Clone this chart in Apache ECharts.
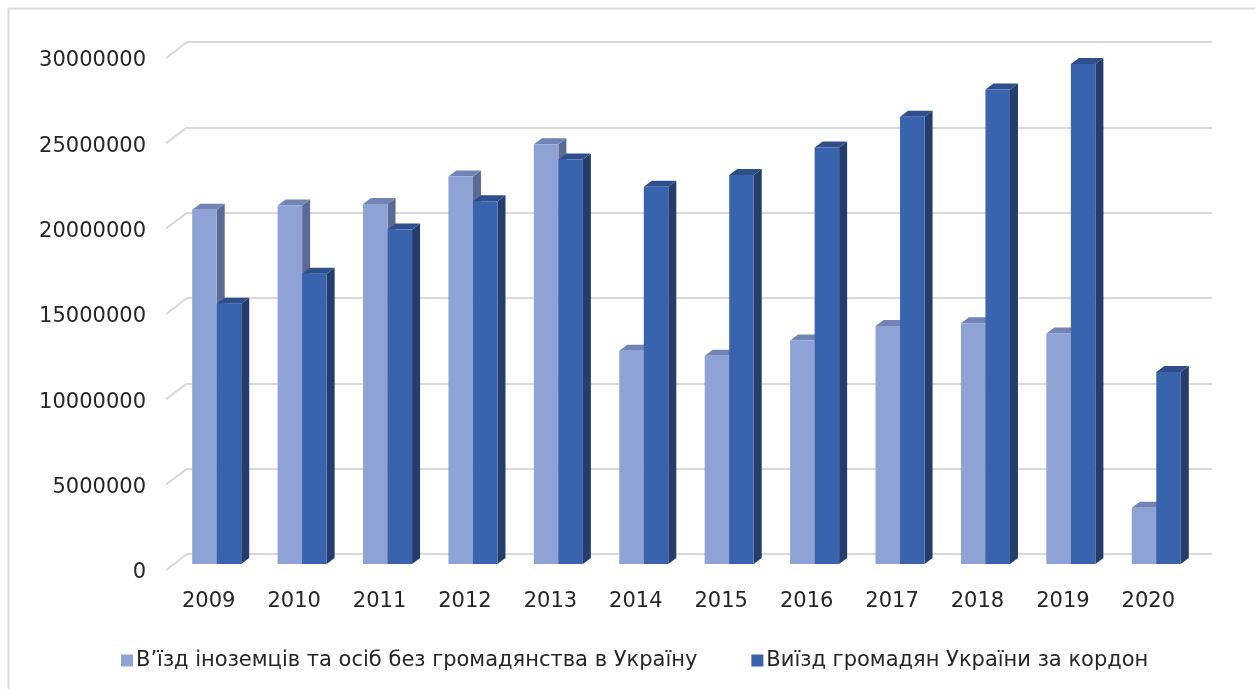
<!DOCTYPE html>
<html>
<head>
<meta charset="utf-8">
<script src="https://cdn.jsdelivr.net/npm/echarts@6/dist/echarts.min.js"></script>
<style>
  html, body { margin: 0; padding: 0; background: #fff; }
  #chart { width: 1255px; height: 689px; }
</style>
</head>
<body>
<div id="chart"></div>
<script>
const years = ['2009', '2010', '2011', '2012', '2013', '2014', '2015', '2016', '2017', '2018', '2019', '2020'];
const seriesNames = [
  'В’їзд іноземців та осіб без громадянства в Україну',
  'Виїзд громадян України за кордон'
];
const entryForeigners = [20750000, 21000000, 21100000, 22700000, 24600000, 12500000, 12200000, 13100000, 13950000, 14100000, 13500000, 3300000];
const exitCitizens = [15250000, 17000000, 19600000, 21250000, 23700000, 22100000, 22800000, 24400000, 26200000, 27800000, 29300000, 11250000];
const yTicks = [0, 5000000, 10000000, 15000000, 20000000, 25000000, 30000000];

// 3d look: wall depth and bar depth (px)
const WALL_DX = -21, WALL_DY = 16;
const PLANE_DX = -13, PLANE_DY = 10;
const BAR_DX = 8, BAR_DY = -6;

const FONT = 'DejaVu Sans, Liberation Sans, sans-serif';

const palette = {
  light: { front: '#8fa2d5', top: '#7283b5', side: '#5d6b94' },
  dark: { front: '#3a63ae', top: '#2e4f8c', side: '#243d6b' }
};

const chart = echarts.init(document.getElementById('chart'));

function box(x, y, w, h, c) {
  // front, top and side faces of one column
  return [
    {
      type: 'polygon',
      shape: { points: [[x + w, y], [x + w + BAR_DX, y + BAR_DY], [x + w + BAR_DX, y + h + BAR_DY], [x + w, y + h]] },
      style: { fill: c.side }
    },
    {
      type: 'polygon',
      shape: { points: [[x, y], [x + BAR_DX, y + BAR_DY], [x + w + BAR_DX, y + BAR_DY], [x + w, y]] },
      style: { fill: c.top }
    },
    {
      type: 'rect',
      shape: { x: x, y: y, width: w, height: h },
      style: { fill: c.front }
    }
  ];
}

function renderBars(params, api) {
  const i = api.value(0);
  const cx = api.coord([i, 0])[0] + PLANE_DX;
  const y0 = api.coord([i, 0])[1] + PLANE_DY;
  const band = api.size([1, 0])[0];
  const w = band * 0.287;
  const yA = api.coord([i, api.value(1)])[1] + PLANE_DY;
  const yB = api.coord([i, api.value(2)])[1] + PLANE_DY;
  return {
    type: 'group',
    children: box(cx - w, yA, w, y0 - yA, palette.light)
      .concat(box(cx, yB, w, y0 - yB, palette.dark))
  };
}

function renderDiagonal(params, api) {
  const y = api.coord([0, api.value(1)])[1];
  const x = params.coordSys.x;
  return {
    type: 'line',
    shape: { x1: x, y1: y, x2: x + WALL_DX, y2: y + WALL_DY },
    style: { stroke: '#d9d9d9', lineWidth: 2 }
  };
}

const option = {
  backgroundColor: '#fff',
  animation: false,
  textStyle: { fontFamily: FONT },
  graphic: [{
    type: 'rect',
    left: 6, top: 6,
    shape: { width: 1300, height: 800 },
    style: { fill: 'none', stroke: '#d9d9d9', lineWidth: 2 },
    silent: true
  }],
  grid: { left: 187, right: 43, top: 42, bottom: 135 },
  legend: {
    top: 645,
    left: 116,
    itemWidth: 12,
    itemHeight: 12,
    itemGap: 54,
    icon: 'rect',
    textStyle: { fontSize: 21, color: '#262626', fontFamily: FONT, padding: [0, 0, 0, -2] },
    data: [
      { name: seriesNames[0], itemStyle: { color: palette.light.front } },
      { name: seriesNames[1], itemStyle: { color: palette.dark.front } }
    ]
  },
  xAxis: {
    type: 'category',
    data: years,
    axisLine: { show: false },
    axisTick: { show: false },
    axisLabel: {
      fontSize: 21,
      fontFamily: FONT,
      color: '#262626',
      margin: 37,
      padding: [0, 42, 0, 0]
    }
  },
  yAxis: {
    type: 'value',
    min: 0,
    max: 30000000,
    interval: 5000000,
    axisLine: { show: false },
    axisTick: { show: false },
    splitLine: { lineStyle: { color: '#d9d9d9', width: 2 } },
    axisLabel: {
      fontSize: 21,
      fontFamily: FONT,
      color: '#262626',
      margin: 41,
      verticalAlign: 'top',
      lineHeight: 38,
      formatter: v => String(v)
    }
  },
  series: [
    {
      type: 'custom',
      name: 'walls',
      silent: true,
      renderItem: renderDiagonal,
      data: yTicks.map(v => [0, v]),
      z: 1
    },
    {
      type: 'custom',
      name: seriesNames[0],
      renderItem: renderBars,
      encode: { x: 0, y: [1, 2] },
      data: years.map((y, i) => [i, entryForeigners[i], exitCitizens[i]]),
      itemStyle: { color: palette.light.front },
      z: 3
    },
    {
      // legend entry for the second series; marks are drawn by the custom series above
      type: 'bar',
      name: seriesNames[1],
      data: [],
      itemStyle: { color: palette.dark.front }
    }
  ]
};

chart.setOption(option);
</script>
</body>
</html>
